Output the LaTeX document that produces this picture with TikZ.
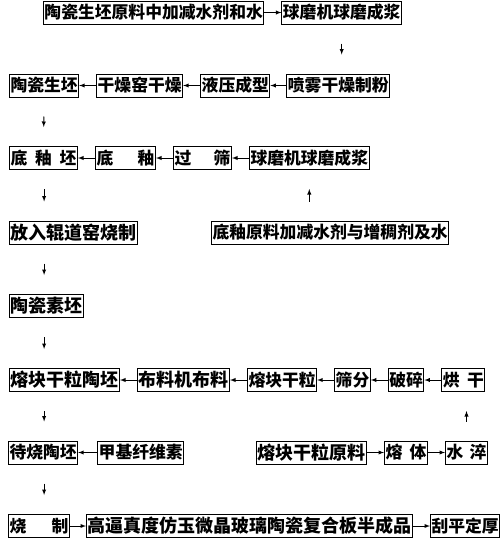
\documentclass[tikz,border=0pt]{standalone}
\usepackage{fontspec}
\newfontfamily\cjk{Noto Sans CJK SC}
\usetikzlibrary{positioning}
\begin{document}
\begin{tikzpicture}[
    x=1pt, y=-1pt,
    box/.style={draw, line width=1pt, inner sep=1pt, minimum height=23pt,
      font=\cjk\bfseries\fontsize{16.8}{17}\selectfont},
    big/.style={box, font=\cjk\bfseries\fontsize{18}{18}\selectfont},
    flow/.style={-latex, line width=0.9pt},
    vflow/.style={flow, shorten <=19pt, shorten >=19pt}
  ]
  \useasboundingbox (0,0) rectangle (500,550);
  \node[box, anchor=west] (raw) at (43,12.5) {陶瓷生坯原料中加减水剂和水};
  \node[box, right=17pt of raw] (mill) {球磨机球磨成浆};

  \node[box, anchor=west] (green) at (9,85.5) {陶瓷生坯};
  \node[box, right=17pt of green] (dryer) {干燥窑干燥};
  \node[box, right=17pt of dryer] (press) {液压成型};
  \node[box, right=16pt of press] (spray) {喷雾干燥制粉};

  \node[box, anchor=west] (glazebody) at (9,158) {\makebox[66pt]{底\hfill 釉\hfill 坯}};
  \node[box, right=17pt of glazebody] (glaze) {\makebox[58pt]{底\hfill 釉}};
  \node[box, right=17pt of glaze] (sieve) {\makebox[56pt]{过\hfill 筛}};
  \node[box, right=17pt of sieve] (glazemill) {球磨机球磨成浆};

  \node[big, anchor=west] (kiln) at (9,232.5) {放入辊道窑烧制};
  \node[box, anchor=west] (glazeraw) at (211,232.5) {底釉原料加减水剂与增稠剂及水};

  \node[big, anchor=west] (bisque) at (9,306) {陶瓷素坯};

  \node[big, anchor=west] (fritbody) at (9,380) {熔块干粒陶坯};
  \node[big, right=17pt of fritbody] (spreader) {布料机布料};
  \node[box, right=17pt of spreader] (frit) {熔块干粒};
  \node[box, right=17pt of frit] (screen) {筛分};
  \node[box, right=17pt of screen] (crush) {破碎};
  \node[box, right=17pt of crush] (bake) {\makebox[41pt]{烘\hfill 干}};

  \node[box, anchor=west] (waitbody) at (8,452.5) {待烧陶坯};
  \node[box, right=19pt of waitbody] (mc) {甲基纤维素};
  \node[big, anchor=west] (fritraw) at (256,452.5) {熔块干粒原料};
  \node[box, right=17pt of fritraw] (melt) {\makebox[41pt]{熔\hfill 体}};
  \node[box, right=17pt of melt] (quench) {\makebox[40pt]{水\hfill 淬}};

  \node[box, anchor=west] (fire) at (8,526) {\makebox[59pt]{烧\hfill 制}};
  \node[big, right=16pt of fire] (semi) {高逼真度仿玉微晶玻璃陶瓷复合板半成品};
  \node[box, right=17pt of semi] (level) {刮平定厚};

  \draw[flow] (raw) -- (mill);
  \draw[vflow] (mill.south) -- (mill.south |- spray.north);
  \draw[flow] (spray) -- (press);
  \draw[flow] (press) -- (dryer);
  \draw[flow] (dryer) -- (green);
  \draw[vflow] (green.south) -- (glazebody.north);
  \draw[flow] (glazemill) -- (sieve);
  \draw[flow] (sieve) -- (glaze);
  \draw[flow] (glaze) -- (glazebody);
  \draw[vflow] (glazeraw.north -| glazemill) -- (glazemill.south);
  \draw[vflow] (glazebody.south -| green) -- (kiln.north -| green);
  \draw[vflow] (kiln.south -| green) -- (bisque.north -| green);
  \draw[vflow] (bisque.south -| green) -- (fritbody.north -| green);
  \draw[flow] (bake) -- (crush);
  \draw[flow] (crush) -- (screen);
  \draw[flow] (screen) -- (frit);
  \draw[flow] (frit) -- (spreader);
  \draw[flow] (spreader) -- (fritbody);
  \draw[vflow] (fritbody.south -| green) -- (waitbody.north -| green);
  \draw[flow] (mc) -- (waitbody);
  \draw[flow] (fritraw) -- (melt);
  \draw[flow] (melt) -- (quench);
  \draw[vflow] (quench.north) -- (quench.north |- bake.south);
  \draw[vflow] (waitbody.south -| green) -- (fire.north -| green);
  \draw[flow] (fire) -- (semi);
  \draw[flow] (semi) -- (level);
\end{tikzpicture}
\end{document}
